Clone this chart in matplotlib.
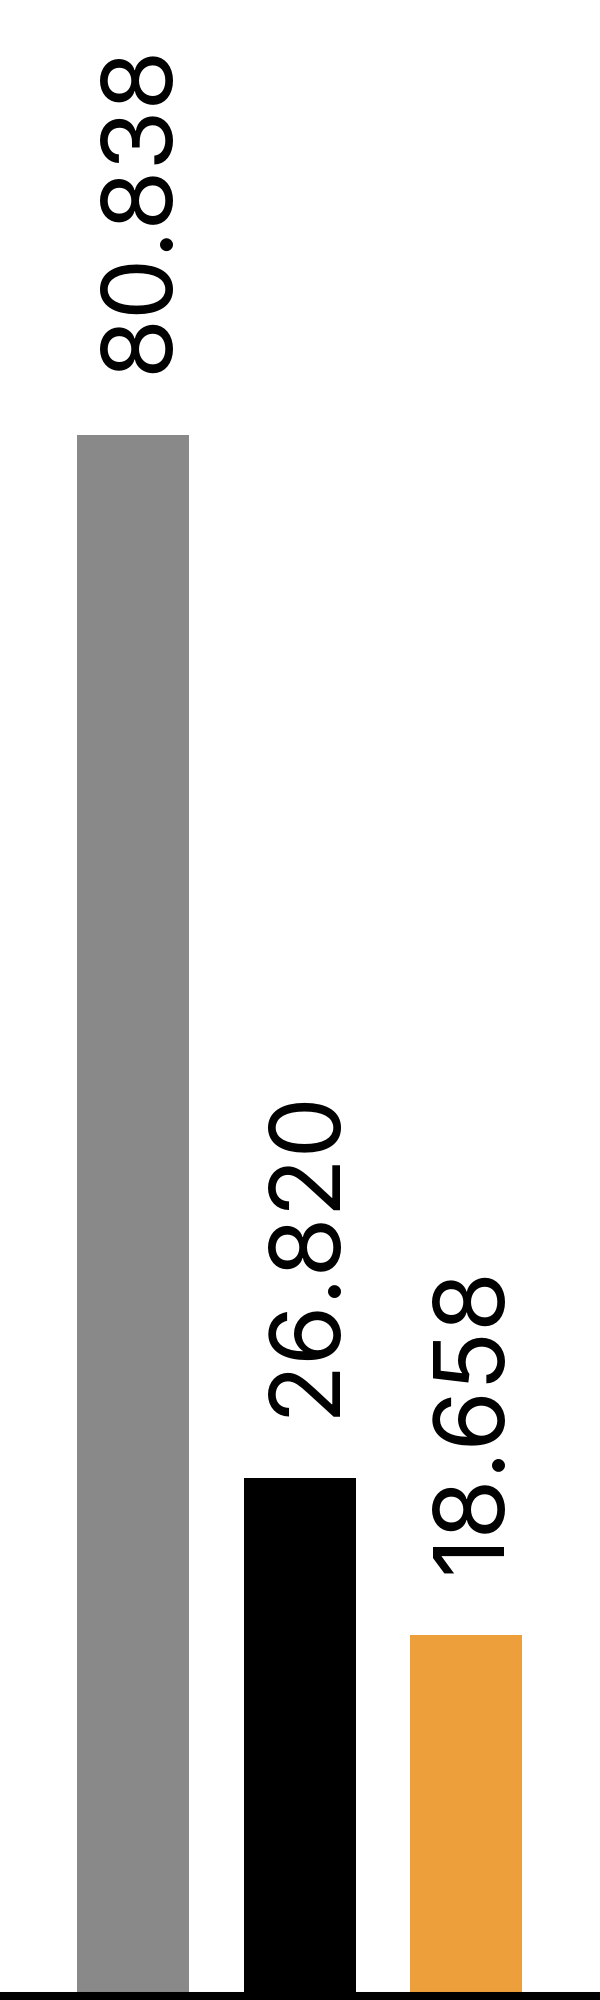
import matplotlib
matplotlib.use('Agg')
import matplotlib.pyplot as plt

# values
categories = ['A', 'B', 'C']
values = [80.838, 26.820, 18.658]
labels = ['80.838', '26.820', '18.658']
colors = ['#898989', '#000000', '#EC9F3A']

W, H = 600, 2000
fig = plt.figure(figsize=(W / 100, H / 100), dpi=100)
fig.patch.set_facecolor('white')

base_px = 4.5  # axis line centre, from the bottom edge
ax = fig.add_axes([0, base_px / H, 1, 1 - base_px / H])

x = list(range(len(categories)))
ax.bar(x, values, width=0.673, color=colors, edgecolor='none')

# one linear scale, ~19.3 px per unit
ax.set_ylim(0, (H - base_px) / 19.3)
ax.set_xlim(-0.8, 2.805)

for xi, v, lab in zip(x, values, labels):
    ax.annotate(lab, (xi, v), xytext=(9, 62), textcoords='offset pixels',
                rotation=90, ha='center', va='bottom',
                fontsize=70, family=['Inter', 'DejaVu Sans'], color='black')

for side in ['top', 'left', 'right']:
    ax.spines[side].set_visible(False)
ax.spines['bottom'].set_linewidth(6.5)
ax.spines['bottom'].set_color('black')
ax.set_xticks([])
ax.set_yticks([])
ax.set_facecolor('white')

fig.savefig('out.png', dpi=100)
